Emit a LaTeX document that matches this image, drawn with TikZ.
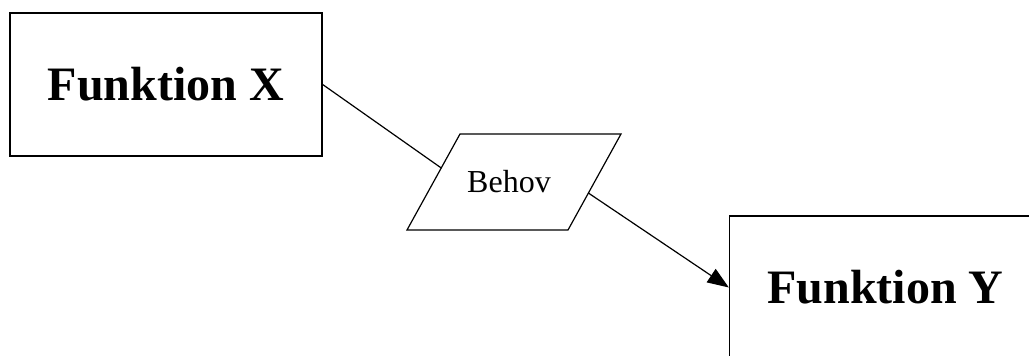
\documentclass[tikz,border=0pt]{standalone}
\usepackage{fontspec}
\setmainfont{Liberation Serif}
\usetikzlibrary{calc,arrows.meta}

\tikzset{
  funcbox/.style={draw, line width=1pt, minimum width=234pt, minimum height=107.25pt,
    inner sep=0, font=\fontsize{36}{40}\selectfont\bfseries},
  flowline/.style={line width=0.9pt},
}

\begin{document}
\begin{tikzpicture}[x=0.75pt, y=-0.75pt]

\useasboundingbox (0,0) rectangle (1029,356);

% ---- functions
\node[funcbox] (fx) at (166,84.5)  {Funktion X};
\node[funcbox] (fy) at (885.5,287.5) {Funktion Y};

% ---- need (parallelogram)
\coordinate (pbl) at (407,230);
\coordinate (pbr) at (568,230);
\coordinate (ptr) at (621,134);
\coordinate (ptl) at (460,134);
\draw[flowline] (pbl) -- (pbr) -- (ptr) -- (ptl) -- cycle;
\node[font=\fontsize{24}{28}\selectfont, inner sep=0] (behov) at (509,182) {Behov};

\coordinate (pin)  at ($(pbl)!0.646!(ptl)$);
\coordinate (pout) at ($(pbr)!0.385!(ptr)$);

% ---- connectors
\draw[flowline] (fx.east) -- (pin);
\draw[flowline, -{Triangle[length=16pt, width=12pt]}] (pout) -- (fy.west);

\end{tikzpicture}
\end{document}
